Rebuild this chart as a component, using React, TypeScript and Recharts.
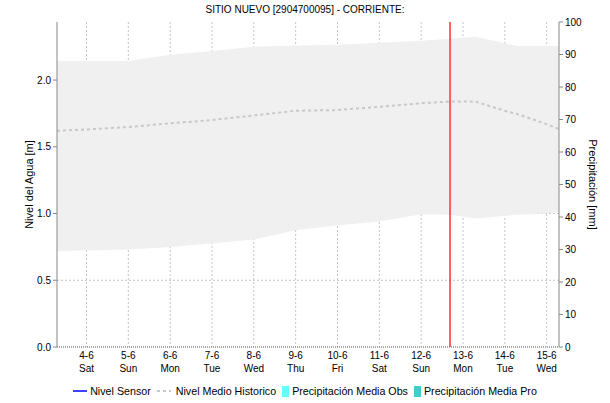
import React from "react";
import {
  Area,
  Bar,
  CartesianGrid,
  ComposedChart,
  Line,
  ReferenceLine,
  XAxis,
  YAxis,
} from "recharts";

// x positions in days, 0 = 4-6 00:00
const days = [-0.705, 0, 1, 2, 3, 4, 5, 6, 7, 8, 8.69, 9.3, 10, 10.3, 11, 11.295];
const bandHigh = [2.143, 2.143, 2.143, 2.19, 2.218, 2.25, 2.258, 2.265, 2.28, 2.295, 2.31, 2.325, 2.276, 2.255, 2.255, 2.255];
const bandLow = [0.72, 0.723, 0.73, 0.75, 0.775, 0.805, 0.875, 0.913, 0.94, 0.995, 0.99, 0.962, 0.983, 0.99, 1.0, 1.01];
const historico = [1.62, 1.63, 1.648, 1.676, 1.7, 1.735, 1.77, 1.775, 1.8, 1.826, 1.84, 1.838, 1.77, 1.745, 1.67, 1.633];
// no sensor / rain readings in this window
const sensor: (number | null)[] = [];
const precipObs: (number | null)[] = [];
const precipPro: (number | null)[] = [];

const dayTicks = [0, 1, 2, 3, 4, 5, 6, 7, 8, 9, 10, 11];
const dayLabels = ["4-6", "5-6", "6-6", "7-6", "8-6", "9-6", "10-6", "11-6", "12-6", "13-6", "14-6", "15-6"];
const weekdayLabels = ["Sat", "Sun", "Mon", "Tue", "Wed", "Thu", "Fri", "Sat", "Sun", "Mon", "Tue", "Wed"];
const nivelTicks = [0, 0.5, 1, 1.5, 2];
const precipTicks = [0, 10, 20, 30, 40, 50, 60, 70, 80, 90, 100];
const nowDay = 8.69;

const data = days.map((d, i) => ({
  day: d,
  band: [bandLow[i], bandHigh[i]],
  hist: historico[i],
  sensor: sensor[i] ?? null,
  pObs: precipObs[i] ?? null,
  pPro: precipPro[i] ?? null,
}));

const FONT = "'Liberation Sans', Arial, sans-serif";
const XDOMAIN: [number, number] = [-0.705, 11.295];

const DayTick = ({ x, y, payload }: any) => {
  const i = dayTicks.indexOf(payload.value);
  return (
    <text x={x} y={y} textAnchor="middle" fontSize={10} fill="#000" fontFamily={FONT}>
      <tspan x={x} dy={2.5}>{dayLabels[i]}</tspan>
      <tspan x={x} dy={13.5}>{weekdayLabels[i]}</tspan>
    </text>
  );
};

const legendItems = [
  { name: "Nivel Sensor", kind: "line", color: "#0000ff" },
  { name: "Nivel Medio Historico", kind: "dash", color: "#c8c8c8" },
  { name: "Precipitación Media Obs", kind: "box", color: "#66ffff" },
  { name: "Precipitación Media Pro", kind: "box", color: "#44cccc" },
];

function ChartLegend() {
  return (
    <div
      style={{
        position: "absolute",
        left: 0,
        top: 383,
        width: 610,
        display: "flex",
        justifyContent: "center",
        fontFamily: FONT,
        fontSize: 10.7,
        color: "#000",
        lineHeight: "16px",
      }}
    >
      {legendItems.map((it, k) => (
        <span
          key={it.name}
          style={{ display: "inline-flex", alignItems: "center", marginRight: k < legendItems.length - 1 ? 6 : 0 }}
        >
          {it.kind === "box" ? (
            <span style={{ display: "inline-block", width: 7, height: 11, background: it.color, marginRight: 3 }} />
          ) : (
            <svg width={14} height={4} style={{ marginRight: it.kind === "dash" ? 5 : 3 }}>
              <line
                x1={0}
                y1={2}
                x2={14}
                y2={2}
                stroke={it.color}
                strokeWidth={it.kind === "dash" ? 2 : 1.5}
                strokeDasharray={it.kind === "dash" ? "3 3" : undefined}
              />
            </svg>
          )}
          {it.name}
        </span>
      ))}
    </div>
  );
}

export default function App() {
  return (
    <div style={{ position: "absolute", left: 0, top: 0, width: 610, height: 403, background: "#fff" }}>
      <div
        style={{
          position: "absolute",
          left: 0,
          top: 4,
          width: 610,
          textAlign: "center",
          fontFamily: FONT,
          fontSize: 10,
          color: "#000",
        }}
      >
        SITIO NUEVO [2904700095] - CORRIENTE:
      </div>
      <ComposedChart
        width={610}
        height={403}
        data={data}
        margin={{ top: 22, right: 0, bottom: 0, left: 0 }}
        style={{ position: "absolute", left: 0, top: 0 }}
      >
        <Area
          xAxisId="bottom"
          yAxisId="left"
          type="linear"
          dataKey="band"
          stroke="none"
          fill="#f0f0f0"
          fillOpacity={1}
          isAnimationActive={false}
        />
        <CartesianGrid
          xAxisId="bottom"
          yAxisId="left"
          stroke="#c4c4c4"
          strokeDasharray="2 2"
          horizontalValues={[0.5, 1, 1.5, 2]}
          verticalValues={dayTicks}
        />
        <XAxis
          xAxisId="bottom"
          dataKey="day"
          type="number"
          domain={XDOMAIN}
          ticks={dayTicks}
          allowDataOverflow
          height={56}
          tickLine={false}
          tickMargin={3}
          tick={<DayTick />}
          axisLine={{ stroke: "#555", strokeDasharray: "1 1" }}
        />
        <XAxis
          xAxisId="top"
          orientation="top"
          dataKey="day"
          type="number"
          domain={XDOMAIN}
          height={0}
          tick={false}
          tickLine={false}
          axisLine={{ stroke: "#888" }}
        />
        <YAxis
          yAxisId="left"
          domain={[0, 2.435]}
          ticks={nivelTicks}
          allowDataOverflow
          width={57}
          tickSize={4}
          tickMargin={2}
          tickFormatter={(v: number) => v.toFixed(1)}
          tick={{ fontSize: 10, fill: "#000", fontFamily: FONT }}
          axisLine={{ stroke: "#888" }}
          tickLine={{ stroke: "#888" }}
          label={{
            value: "Nivel del Agua [m]",
            angle: -90,
            position: "center",
            dx: 1,
            style: { fontSize: 11, fill: "#000", fontFamily: FONT, textAnchor: "middle" },
          }}
        />
        <YAxis
          yAxisId="right"
          orientation="right"
          domain={[0, 100]}
          ticks={precipTicks}
          allowDataOverflow
          width={51}
          tickSize={4}
          tickMargin={2}
          tick={{ fontSize: 10, fill: "#000", fontFamily: FONT }}
          axisLine={{ stroke: "#888" }}
          tickLine={{ stroke: "#888" }}
          label={{
            value: "Precipitación [mm]",
            angle: 90,
            position: "center",
            dx: 8,
            style: { fontSize: 11, fill: "#000", fontFamily: FONT, textAnchor: "middle" },
          }}
        />
        <Bar xAxisId="bottom" yAxisId="right" dataKey="pObs" fill="#66ffff" isAnimationActive={false} />
        <Bar xAxisId="bottom" yAxisId="right" dataKey="pPro" fill="#44cccc" isAnimationActive={false} />
        <Line
          xAxisId="bottom"
          yAxisId="left"
          type="linear"
          dataKey="hist"
          stroke="#c8c8c8"
          strokeWidth={2}
          strokeDasharray="3 3"
          dot={false}
          isAnimationActive={false}
        />
        <Line
          xAxisId="bottom"
          yAxisId="left"
          type="linear"
          dataKey="sensor"
          stroke="#0000ff"
          dot={false}
          isAnimationActive={false}
        />
        <ReferenceLine xAxisId="bottom" yAxisId="left" x={nowDay} stroke="#ff3030" strokeWidth={1.5} />
      </ComposedChart>
      <ChartLegend />
    </div>
  );
}
